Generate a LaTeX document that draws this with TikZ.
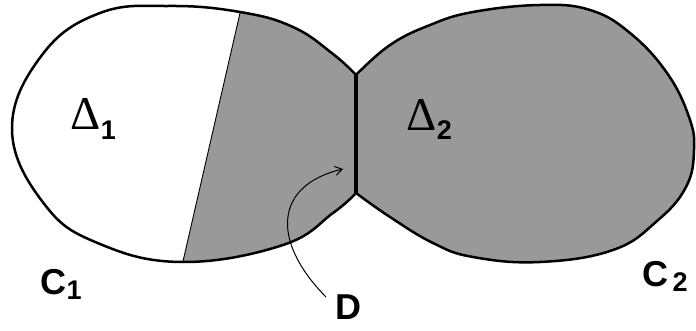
\documentclass[tikz,border=0pt]{standalone}
\usepackage{fontspec}
\setmainfont{Liberation Sans}
\newfontfamily\greekfont{Liberation Serif}
\usetikzlibrary{arrows.meta,positioning}
\definecolor{lobegray}{RGB}{153,153,153}

\begin{document}
\begin{tikzpicture}[
    x=1pt, y=-1pt,
    outline/.style={line width=2.5pt, line join=round},
    neck/.style={line width=4.4pt},
    divider/.style={line width=0.9pt},
    pointer/.style={line width=1pt, -{Straight Barb[length=7pt,width=9pt]}},
    area/.style={font=\greekfont\fontsize{47}{49}\selectfont, inner sep=0pt, anchor=base west},
    curve/.style={font=\fontsize{36}{38}\selectfont\bfseries, inner sep=0pt, anchor=base west},
    sub/.style={font=\fontsize{27}{29}\selectfont\bfseries, inner sep=0pt, anchor=base west}
]
\useasboundingbox (0,0) rectangle (696,331);

% Neck
\coordinate (n1) at (356,75);
\coordinate (n2) at (356,193);

% Right lobe
\filldraw[outline, fill=lobegray] plot[smooth, tension=0.7] coordinates {(356,75) (390,45) (430,25)
    (473,12) (540,5) (590,10) (630,33) (667,73) (689,117) (694,150) (686,187) (657,221)
    (613,250) (540,262) (473,257) (433,243) (390,217) (356,193)} -- cycle;

% Left lobe
\fill[white] plot[smooth, tension=0.7] coordinates {(356,75) (333,54) (293,27) (240,12) (170,6)
    (100,13) (42,55) (12,130) (45,205) (100,244) (183,262) (283,245) (333,213) (356,193)} -- cycle;
\begin{scope}
  \clip plot[smooth, tension=0.7] coordinates {(356,75) (333,54) (293,27) (240,12) (170,6)
    (100,13) (42,55) (12,130) (45,205) (100,244) (183,262) (283,245) (333,213) (356,193)} -- cycle;
  \fill[lobegray] (243,0) -- (167,331) -- (360,331) -- (360,0) -- cycle;
  \draw[divider] (243,0) -- (167,331);
\end{scope}
\draw[outline] plot[smooth, tension=0.7] coordinates {(356,75) (333,54) (293,27) (240,12) (170,6)
    (100,13) (42,55) (12,130) (45,205) (100,244) (183,262) (283,245) (333,213) (356,193)} -- cycle;

\draw[neck] (n1) -- (n2);

% Labels
\node[area] (delta1) at (70,130) {Δ};
\node[sub, yshift=-10pt] (d1sub) at (delta1.base east) {1};
\node[area] (delta2) at (406,131) {Δ};
\node[sub, yshift=-9pt] (d2sub) at (delta2.base east) {2};
\node[curve] (c1) at (40,294) {C};
\node[sub, yshift=-5pt] (c1sub) at (c1.base east) {1};
\node[curve] (c2) at (642,286) {C};
\node[sub, xshift=4pt, yshift=-5pt] (c2sub) at (c2.base east) {2};
\node[curve] (dlab) at (335,319) {D};

% Pointer
\coordinate (tip) at (343,169);
\draw[pointer] ([shift={(-9,3)}]dlab.north west) .. controls (270,240) and (275,185) .. (tip);

\end{tikzpicture}
\end{document}
